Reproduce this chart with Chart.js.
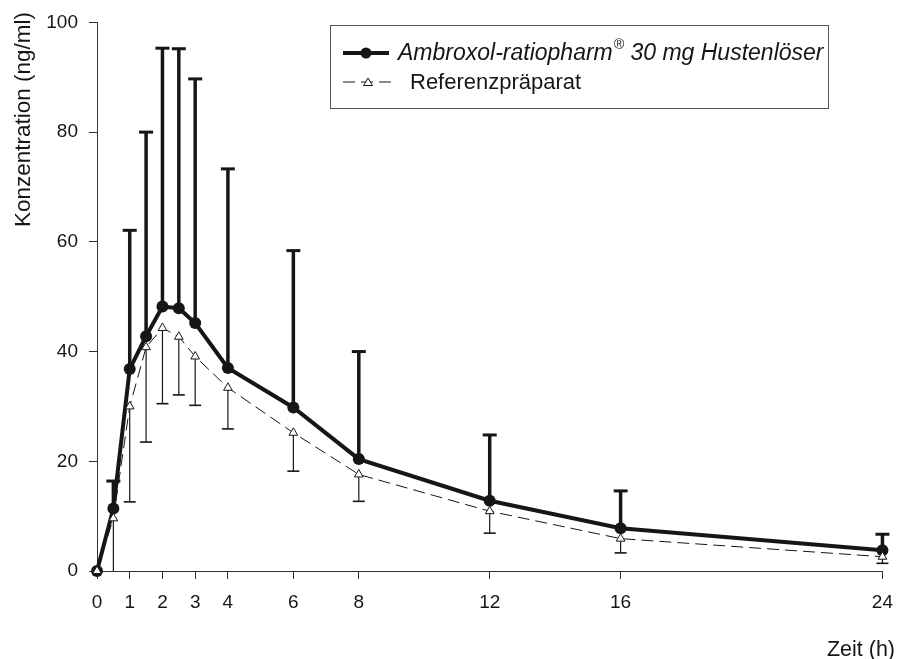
<!DOCTYPE html>
<html>
<head>
<meta charset="utf-8">
<script src="https://cdn.jsdelivr.net/npm/chart.js@4/dist/chart.umd.min.js"></script>
<style>
  html, body { margin: 0; padding: 0; background: #fff; }
  #wrap { width: 905px; height: 659px; }
</style>
</head>
<body>
<div id="wrap"><canvas id="chart" width="905" height="659"></canvas></div>
<script>
// Zeitpunkte (h) und Konzentrationen (ng/ml)
const times = [0, 0.5, 1, 1.5, 2, 2.5, 3, 4, 6, 8, 12, 16, 24];
const xTickValues = [0, 1, 2, 3, 4, 6, 8, 12, 16, 24];

const ambroxolMean  = [0, 11.4, 36.8, 42.8, 48.2, 47.9, 45.2, 37.0, 29.8, 20.4, 12.8, 7.8, 3.8];
const ambroxolUpper = [0, 16.4, 62.1, 80.0, 95.3, 95.2, 89.7, 73.3, 58.4, 40.0, 24.8, 14.6, 6.7];

const referenzMean  = [0, 9.6, 30.0, 40.8, 44.3, 42.7, 39.1, 33.4, 25.2, 17.6, 10.9, 5.9, 2.6];
const referenzLower = [0, 0, 12.6, 23.5, 30.5, 32.1, 30.2, 25.9, 18.2, 12.7, 6.9, 3.3, 1.4];

const labelA = 'Ambroxol-ratiopharm';
const labelA2 = ' 30 mg Hustenlöser';
const labelB = 'Referenzpräparat';
const yTitle = 'Konzentration (ng/ml)';
const xTitle = 'Zeit (h)';

const ink = '#161616';
const fontFam = '"Liberation Sans", Arial, sans-serif';

// Fehlerbalken: A nach oben (dick), Referenz nach unten (dünn)
const errorBars = {
  id: 'errorBars',
  beforeDatasetsDraw(chart) {
    const ctx = chart.ctx;
    const xs = chart.scales.x, ys = chart.scales.y;
    ctx.save();
    ctx.strokeStyle = ink;
    times.forEach((t, i) => {
      const px = xs.getPixelForValue(t);
      // upper bars
      if (ambroxolUpper[i] > ambroxolMean[i]) {
        const y0 = ys.getPixelForValue(ambroxolMean[i]);
        const y1 = ys.getPixelForValue(ambroxolUpper[i]);
        ctx.lineWidth = 3.5;
        ctx.beginPath(); ctx.moveTo(px, y0); ctx.lineTo(px, y1); ctx.stroke();
        ctx.lineWidth = 3;
        ctx.beginPath(); ctx.moveTo(px - 7, y1); ctx.lineTo(px + 7, y1); ctx.stroke();
      }
      // lower bars
      if (referenzLower[i] < referenzMean[i]) {
        const y0 = ys.getPixelForValue(referenzMean[i]);
        const y1 = ys.getPixelForValue(referenzLower[i]);
        ctx.lineWidth = 1.2;
        ctx.beginPath(); ctx.moveTo(px, y0); ctx.lineTo(px, y1); ctx.stroke();
        if (referenzLower[i] > 0) {
          ctx.lineWidth = 1.6;
          ctx.beginPath(); ctx.moveTo(px - 6, y1); ctx.lineTo(px + 6, y1); ctx.stroke();
        }
      }
    });
    ctx.restore();
  }
};

// Legende und Achsentitel
const extras = {
  id: 'extras',
  afterDraw(chart) {
    const ctx = chart.ctx;
    ctx.save();
    // legend box
    ctx.strokeStyle = '#555';
    ctx.lineWidth = 1;
    ctx.strokeRect(330.5, 25.5, 498, 83);

    // row 1
    ctx.strokeStyle = ink;
    ctx.lineWidth = 4;
    ctx.beginPath(); ctx.moveTo(343, 53); ctx.lineTo(389, 53); ctx.stroke();
    ctx.fillStyle = ink;
    ctx.beginPath(); ctx.arc(366, 53, 5.5, 0, Math.PI * 2); ctx.fill();

    ctx.fillStyle = ink;
    ctx.textBaseline = 'middle';
    ctx.textAlign = 'left';
    ctx.font = 'italic 23px ' + fontFam;
    let x = 398;
    ctx.fillText(labelA, x, 54);
    x += ctx.measureText(labelA).width + 1;
    ctx.font = 'italic 14px ' + fontFam;
    ctx.fillText('®', x, 45);
    x += ctx.measureText('®').width;
    ctx.font = 'italic 23px ' + fontFam;
    ctx.fillText(labelA2, x, 54);

    // row 2
    ctx.lineWidth = 1;
    ctx.setLineDash([12, 6]);
    ctx.beginPath(); ctx.moveTo(343, 82); ctx.lineTo(394, 82); ctx.stroke();
    ctx.setLineDash([]);
    ctx.fillStyle = '#fff';
    ctx.beginPath();
    ctx.moveTo(368, 78); ctx.lineTo(372.5, 85.5); ctx.lineTo(363.5, 85.5); ctx.closePath();
    ctx.fill(); ctx.stroke();
    ctx.fillStyle = ink;
    ctx.font = '22px ' + fontFam;
    ctx.fillText(labelB, 410, 83);

    // axis titles
    ctx.font = '21.5px ' + fontFam;
    ctx.textAlign = 'right';
    ctx.fillText(xTitle, 895, 650);
    ctx.font = '22.5px ' + fontFam;
    ctx.translate(24, 12);
    ctx.rotate(-Math.PI / 2);
    ctx.fillText(yTitle, 0, 0);
    ctx.restore();
  }
};

const ctx = document.getElementById('chart').getContext('2d');
const chart = new Chart(ctx, {
  type: 'line',
  data: {
    datasets: [{
      label: labelA + '® ' + labelA2,
      data: times.map((t, i) => ({ x: t, y: ambroxolMean[i] })),
      borderColor: ink,
      backgroundColor: ink,
      borderWidth: 4,
      pointRadius: 6,
      pointStyle: 'circle',
      pointBackgroundColor: ink,
      pointBorderWidth: 0,
      tension: 0,
      clip: false,
      order: 1
    }, {
      label: labelB,
      data: times.map((t, i) => ({ x: t, y: referenzMean[i] })),
      borderColor: ink,
      borderWidth: 1,
      borderDash: [12, 6],
      pointRadius: 5,
      pointStyle: 'triangle',
      pointBackgroundColor: '#fff',
      pointBorderColor: ink,
      pointBorderWidth: 1,
      tension: 0,
      clip: false,
      order: 0
    }]
  },
  options: {
    responsive: false,
    animation: false,
    layout: { padding: { top: 21, right: 21, bottom: 0, left: 0 } },
    plugins: { legend: { display: false }, tooltip: { enabled: false } },
    scales: {
      x: {
        type: 'linear',
        min: 0,
        max: 24,
        afterBuildTicks(scale) { scale.ticks = xTickValues.map(v => ({ value: v })); },
        afterFit(scale) { scale.height = 88; },
        grid: { drawOnChartArea: false, tickLength: 8, color: '#333' },
        border: { color: '#333', width: 1 },
        ticks: { color: ink, padding: 12, autoSkip: false, maxRotation: 0, font: { family: fontFam, size: 19 } }
      },
      y: {
        min: 0,
        max: 100,
        afterFit(scale) { scale.width = 97; },
        grid: { drawOnChartArea: false, tickLength: 8, color: '#333' },
        border: { color: '#333', width: 1 },
        ticks: { stepSize: 20, color: ink, padding: 11, font: { family: fontFam, size: 19 } }
      }
    }
  },
  plugins: [errorBars, extras]
});
</script>
</body>
</html>
